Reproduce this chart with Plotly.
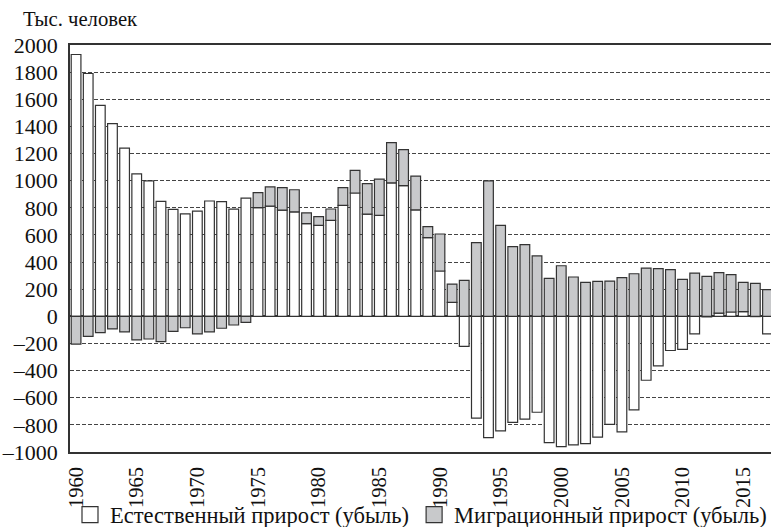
import plotly.graph_objects as go

years = list(range(1960, 2018))

natural = [1930, 1790, 1555, 1420, 1240, 1050, 998, 848, 789, 755,
           775, 850, 845, 790, 872, 801, 812, 783, 770, 683,
           671, 708, 818, 909, 754, 744, 983, 963, 784, 580,
           334, 103, -222, -750, -894, -845, -781, -758, -707, -931,
           -960, -948, -938, -890, -797, -851, -689, -471, -365, -252,
           -244, -130, -4, 24, 32, 35, -2, -130]

migration = [-205, -147, -120, -93, -115, -174, -167, -187, -111, -84,
             -130, -115, -88, -64, -44, 111, 142, 165, 163, 79,
             64, 83, 130, 167, 224, 268, 297, 266, 250, 81,
             273, 135, 265, 544, 998, 670, 514, 528, 445, 280,
             373, 290, 251, 258, 260, 285, 314, 356, 351, 344,
             273, 319, 295, 298, 275, 216, 243, 197]

series_names = ["Естественный прирост (убыль)", "Миграционный прирост (убыль)"]
y_ticks = list(range(-1000, 2001, 200))
y_tick_text = [str(v).replace("-", "\u2013") for v in y_ticks]
x_ticks = list(range(1960, 2016, 5))
y_title = "Тыс. человек"

FONT = "Liberation Serif, Times New Roman, serif"
LINE = "#333333"
WHITE_FILL = "#ffffff"
GRAY_FILL = "#c8c9cb"

W, H = 771, 527
L, R, T, B = 70, 0, 45, 75
PW, PH = W - L - R, H - T - B

fig = go.Figure()
fig.add_trace(go.Bar(x=years, y=natural, name=series_names[0], showlegend=False,
                     marker=dict(color=WHITE_FILL, line=dict(color=LINE, width=1.2))))
fig.add_trace(go.Bar(x=years, y=migration, name=series_names[1], showlegend=False,
                     marker=dict(color=GRAY_FILL, line=dict(color=LINE, width=1.2))))
# legend entries with larger square symbols
for name, fill in zip(series_names, [WHITE_FILL, GRAY_FILL]):
    fig.add_trace(go.Scatter(x=[None], y=[None], mode="markers", name=name,
                             marker=dict(symbol="square", size=16, color=fill,
                                         line=dict(color=LINE, width=1.2))))

fig.update_layout(
    width=W, height=H,
    barmode="relative", bargap=0.2,
    plot_bgcolor="white", paper_bgcolor="white",
    margin=dict(l=L, r=R, t=T, b=B),
    font=dict(family=FONT, size=21, color="#111111"),
    showlegend=True,
    legend=dict(orientation="h", x=70 / W, xanchor="left", xref="container",
                y=1 - 515 / H, yanchor="middle", yref="container",
                bgcolor="rgba(0,0,0,0)", font=dict(size=22.5),
                traceorder="normal", itemsizing="trace"),
    xaxis=dict(range=[1959.5, 1959.5 + PW / 12.13], tickmode="array",
               tickvals=x_ticks, tickangle=-90, showgrid=False, showline=True,
               linecolor=LINE, linewidth=1.5, mirror=True, ticks="",
               zeroline=False, automargin=False, ticklabelstandoff=5,
               tickfont=dict(size=20.5)),
    yaxis=dict(range=[-1000, 2000], tickmode="array", tickvals=y_ticks,
               ticktext=y_tick_text, showgrid=True, gridcolor="#444444",
               griddash="4px,2px", gridwidth=1, zeroline=True,
               zerolinecolor=LINE, zerolinewidth=1.5, showline=True,
               linecolor=LINE, linewidth=1.5, ticks="", ticklabelstandoff=6,
               automargin=False, tickfont=dict(size=22)),
)
fig.add_annotation(text=y_title, xref="paper", yref="paper",
                   x=(21 - L) / PW, y=1 + (T - 19) / PH, xanchor="left",
                   yanchor="middle", showarrow=False, font=dict(size=20.7))

fig.write_html("out.html", config={"displayModeBar": False},
               post_script="document.body.style.margin='0';")
